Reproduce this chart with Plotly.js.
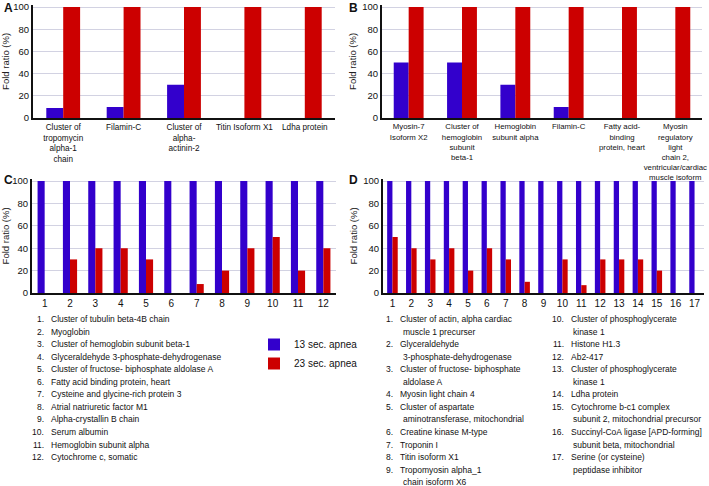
<!DOCTYPE html>
<html>
<head>
<meta charset="utf-8">
<script src="https://cdn.plot.ly/plotly-3.0.1.min.js"></script>
<style>
  body { margin: 0; background: white; }
  #chart { width: 709px; height: 486px; }
</style>
</head>
<body>
<div id="chart"></div>
<script>
// panel A
const catsA = ["Cluster of<br>tropomycin<br>alpha-1<br>chain", "Filamin-C", "Cluster of<br>alpha-<br>actinin-2", "Titin Isoform X1", "Ldha protein"];
const blueA = [9, 10, 30, 0, 0];
const redA = [100, 100, 100, 100, 100];

// panel B
const catsB = ["Myosin-7<br>Isoform X2", "Cluster of<br>hemoglobin<br>subunit<br>beta-1", "Hemoglobin<br>subunit alpha", "Filamin-C", "Fatty acid-<br>binding<br>protein, heart", "Myosin<br>regulatory<br>light<br>chain 2,<br>ventricular/cardiac<br>muscle isoform"];
const blueB = [50, 50, 30, 10, 0, 0];
const redB = [100, 100, 100, 100, 100, 100];

// panel C
const namesC = [
  "Cluster of tubulin beta-4B chain",
  "Myoglobin",
  "Cluster of hemoglobin subunit beta-1",
  "Glyceraldehyde 3-phosphate-dehydrogenase",
  "Cluster of fructose- biphosphate aldolase A",
  "Fatty acid binding protein, heart",
  "Cysteine and glycine-rich protein 3",
  "Atrial natriuretic factor M1",
  "Alpha-crystallin B chain",
  "Serum albumin",
  "Hemoglobin subunit alpha",
  "Cytochrome c, somatic"
];
const blueC = [100, 100, 100, 100, 100, 100, 100, 100, 100, 100, 100, 100];
const redC = [0, 30, 40, 40, 30, 0, 8, 20, 40, 50, 20, 40];

// panel D
const namesD = [
  "Cluster of actin, alpha cardiac<br>muscle 1 precurser",
  "Glyceraldehyde<br>3-phosphate-dehydrogenase",
  "Cluster of fructose- biphosphate<br>aldolase A",
  "Myosin light chain 4",
  "Cluster of aspartate<br>aminotransferase, mitochondrial",
  "Creatine kinase M-type",
  "Troponin I",
  "Titin isoform X1",
  "Tropomyosin alpha_1<br>chain isoform X6",
  "Cluster of phosphoglycerate<br>kinase 1",
  "Histone H1.3",
  "Ab2-417",
  "Cluster of phosphoglycerate<br>kinase 1",
  "Ldha protein",
  "Cytochrome b-c1 complex<br>subunit 2, mitochondrial precursor",
  "Succinyl-CoA ligase [APD-forming]<br>subunit beta, mitochondrial",
  "Serine (or cysteine)<br>peptidase inhibitor"
];
const blueD = [100, 100, 100, 100, 100, 100, 100, 100, 100, 100, 100, 100, 100, 100, 100, 100, 100];
const redD = [50, 40, 30, 40, 20, 40, 30, 10, 0, 30, 7, 30, 30, 30, 20, 0, 0];

const seriesNames = ["13 sec. apnea", "23 sec. apnea"];
const ticksC = namesC.map((_, i) => String(i + 1));
const ticksD = namesD.map((_, i) => String(i + 1));

const W = 709, H = 486;
const BLUE = "#3300cc", RED = "#cc0000";
const FONT = "Liberation Sans, Arial, sans-serif";

const px = (x) => x / W;
const py = (y) => 1 - y / H;

function pair(x, blue, red, xa, ya, show) {
  return [
    { type: "bar", x: x, y: blue, name: seriesNames[0], showlegend: show,
      marker: { color: BLUE }, xaxis: xa, yaxis: ya, hoverinfo: "x+y" },
    { type: "bar", x: x, y: red, name: seriesNames[1], showlegend: show,
      marker: { color: RED }, xaxis: xa, yaxis: ya, hoverinfo: "x+y" },
  ];
}

const data = [
  ...pair(catsA, blueA, redA, "x", "y", false),
  ...pair(catsB, blueB, redB, "x2", "y2", false),
  ...pair(ticksC, blueC, redC, "x3", "y3", true),
  ...pair(ticksD, blueD, redD, "x4", "y4", false),
];

function xAxis(left, right, anchor, size) {
  return {
    domain: [px(left), px(right)], anchor: anchor, type: "category",
    showline: true, linecolor: "#111", linewidth: 2, ticks: "",
    tickmode: "linear", dtick: 1, tickangle: 0,
    tickfont: { size: size, color: "#111" }, automargin: false, fixedrange: true,
  };
}

function yAxis(bottom, top, anchor) {
  return {
    domain: [py(bottom), py(top)], anchor: anchor, range: [0, 102],
    tickvals: [0, 20, 40, 60, 80, 100],
    showgrid: true, gridcolor: "#d2d2e2", gridwidth: 1, zeroline: false,
    showline: true, linecolor: "#111", linewidth: 2, ticks: "",
    tickfont: { size: 9.5, color: "#111" },
    title: { text: "Fold ratio (%)", font: { size: 9.5, color: "#222" }, standoff: 4 },
    automargin: false, fixedrange: true,
  };
}

const annotations = [];

// panel letters
[["A", 2, 8], ["B", 347, 8], ["C", 2, 180], ["D", 347, 180]].forEach(([t, x, y]) => {
  annotations.push({ text: "<b>" + t + "</b>", x: px(x), y: py(y), xref: "paper", yref: "paper",
    xanchor: "left", yanchor: "middle", showarrow: false, font: { size: 12, color: "#111" } });
});

// numbered lists under C and D
const ROW = 12.55, TOP = 319, LISTFONT = 8.5;
function addList(names, first, last, numRight, textX, contX) {
  let row = 0;
  for (let i = first; i <= last; i++) {
    const lines = names[i].split("<br>");
    const y = TOP + row * ROW;
    annotations.push({ text: (i + 1) + ".", x: px(numRight), y: py(y), xref: "paper", yref: "paper",
      xanchor: "right", yanchor: "middle", showarrow: false, font: { size: LISTFONT, color: "#111" } });
    lines.forEach((ln, k) => {
      annotations.push({ text: ln, x: px(k === 0 ? textX : contX), y: py(y + k * ROW),
        xref: "paper", yref: "paper", xanchor: "left", yanchor: "middle", showarrow: false,
        font: { size: LISTFONT, color: "#111" } });
    });
    row += lines.length;
  }
}
addList(namesC, 0, 11, 46, 49, 49);
addList(namesD, 0, 8, 395, 398, 401);
addList(namesD, 9, 16, 566, 569, 571);

const layout = {
  width: W, height: H,
  margin: { l: 0, r: 0, t: 0, b: 0 },
  paper_bgcolor: "white", plot_bgcolor: "white",
  font: { family: FONT, color: "#111" },
  barmode: "group", bargap: 0.44, bargroupgap: 0,
  showlegend: true,
  legend: { x: px(254), y: py(330), xanchor: "left", yanchor: "top", tracegroupgap: 0,
    bgcolor: "rgba(0,0,0,0)", font: { size: 10, color: "#111" } },
  xaxis: xAxis(33, 335, "y", 8.2),
  yaxis: yAxis(118, 4.8, "x"),
  xaxis2: xAxis(382, 702, "y2", 7.8),
  yaxis2: yAxis(118, 4.8, "x2"),
  xaxis3: xAxis(32, 336, "y3", 10),
  yaxis3: yAxis(293, 178.8, "x3"),
  xaxis4: xAxis(383, 704, "y4", 10),
  yaxis4: yAxis(293, 178.8, "x4"),
  annotations: annotations,
};

Plotly.newPlot("chart", data, layout, { displayModeBar: false, staticPlot: true });
</script>
</body>
</html>
